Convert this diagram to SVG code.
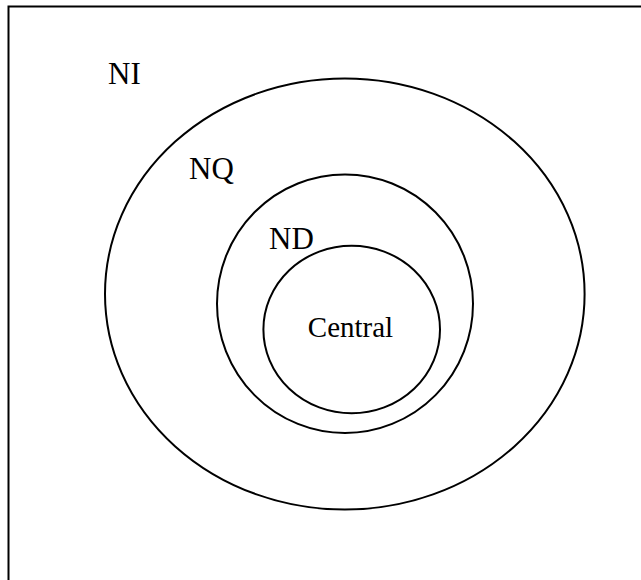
<svg xmlns="http://www.w3.org/2000/svg" width="641" height="580" viewBox="0 0 641 580">
<style>
.ring{fill:none;stroke:#000;stroke-width:2}
.lbl{font-family:"Liberation Serif","Times New Roman",serif;font-size:31px;fill:#000}
.ctr{font-size:29px}
</style>
<rect width="641" height="580" fill="#fff"/>
<g id="frame">
<path d="M8.5,580 V6.5 H641" fill="none" stroke="#000" stroke-width="2"/>
</g>
<g id="NI">
<ellipse class="ring" cx="344.8" cy="294" rx="239.8" ry="215.5"/>
<text class="lbl" x="108" y="84">NI</text>
</g>
<g id="NQ">
<ellipse class="ring" cx="345" cy="303.7" rx="128" ry="129.3"/>
<text class="lbl" x="189" y="178.5">NQ</text>
</g>
<g id="ND">
<ellipse class="ring" cx="351.7" cy="329.5" rx="88.3" ry="83.8"/>
<text class="lbl" x="269" y="248.5">ND</text>
</g>
<g id="Central">
<text class="lbl ctr" x="350.5" y="336.5" text-anchor="middle">Central</text>
</g>
<g id="connectors"/>
</svg>
